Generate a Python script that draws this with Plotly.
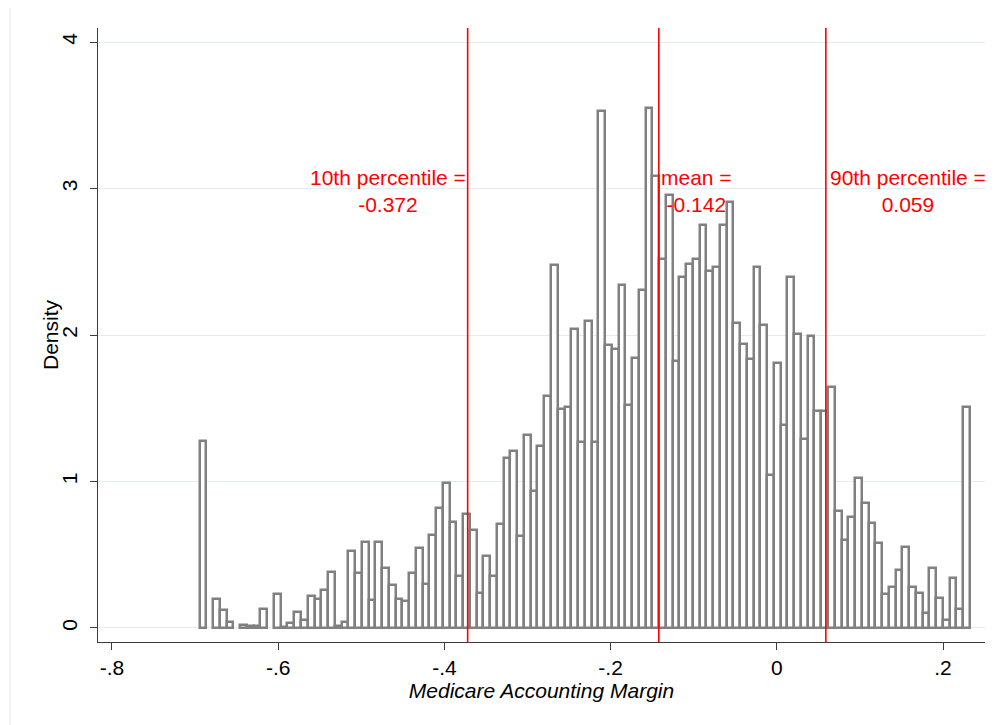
import plotly.graph_objects as go

# Histogram densities (one value per bin, left to right)
density = [
    1.276, 0.0, 0.198, 0.123, 0.041, 0.0, 0.021, 0.013, 0.015, 0.127,
    0.0, 0.233, 0.006, 0.034, 0.107, 0.055, 0.220, 0.199, 0.260, 0.385,
    0.015, 0.041, 0.523, 0.378, 0.584, 0.188, 0.584, 0.410, 0.293, 0.201,
    0.187, 0.378, 0.544, 0.298, 0.635, 0.821, 0.992, 0.726, 0.352, 0.778,
    0.669, 0.237, 0.490, 0.356, 0.708, 1.160, 1.206, 0.628, 1.317, 0.932,
    1.245, 1.583, 2.478, 1.496, 1.511, 2.040, 1.270, 2.094, 1.270, 3.526,
    1.935, 1.904, 2.339, 1.523, 1.845, 2.306, 3.550, 3.082, 2.522, 2.957,
    1.824, 2.398, 2.487, 2.518, 2.748, 2.440, 2.467, 2.748, 2.906, 2.082,
    1.939, 1.834, 2.467, 2.065, 1.045, 1.808, 1.389, 2.396, 2.010, 1.291,
    1.991, 1.484, 1.479, 1.647, 0.801, 0.601, 0.760, 1.022, 0.856, 0.714,
    0.578, 0.230, 0.278, 0.396, 0.555, 0.278, 0.241, 0.100, 0.407, 0.203,
    0.055, 0.339, 0.132, 1.511,
]
bin_start = -0.6945
bin_width = 0.00813

x_tickvals = [-0.8, -0.6, -0.4, -0.2, 0.0, 0.2]
x_ticktext = ["-.8", "-.6", "-.4", "-.2", "0", ".2"]
y_tickvals = [0, 1, 2, 3, 4]
y_ticktext = ["0", "1", "2", "3", "4"]

ref_values = [-0.372, -0.142, 0.059]
ref_names = ["10th percentile =", "mean =", "90th percentile ="]
ref_numbers = ["-0.372", "-0.142", "0.059"]

FONT = "Liberation Sans, Arial, sans-serif"
RED = "#ff0000"

centers = [bin_start + (i + 0.5) * bin_width for i in range(len(density))]
heights = [v if v > 0 else None for v in density]

fig = go.Figure()
fig.add_trace(go.Bar(
    x=centers, y=heights, width=bin_width,
    marker=dict(color="white", line=dict(color="#808080", width=2.5)),
    hoverinfo="x+y", showlegend=False,
))

for v in ref_values:
    fig.add_shape(type="line", xref="x", yref="paper", x0=v, x1=v, y0=0, y1=1,
                  line=dict(color=RED, width=1.6), layer="above")

shifts = [-80, 38, 82]
for v, name, num, s in zip(ref_values, ref_names, ref_numbers, shifts):
    fig.add_annotation(x=v, y=2.98, xref="x", yref="y", text=name + "<br>" + num,
                       showarrow=False, align="center",
                       xanchor="center", yanchor="middle", xshift=s,
                       font=dict(family=FONT, size=21, color=RED))

# y-axis title placed as rotated text
fig.add_annotation(x=0, y=0.5, xref="paper", yref="paper", text="Density",
                   textangle=-90, showarrow=False, xanchor="center", yanchor="middle",
                   xshift=-48, font=dict(family=FONT, size=21, color="black"))

# faint outer frame of the graph region
fig.add_shape(type="line", xref="paper", yref="paper", x0=-0.0992, x1=1.02, y0=1.0407, y1=1.0407,
              line=dict(color="#e6e6e6", width=1))
fig.add_shape(type="line", xref="paper", yref="paper", x0=-0.0992, x1=-0.0992, y0=-0.14, y1=1.0407,
              line=dict(color="#e6e6e6", width=1))

fig.update_layout(
    width=992, height=717,
    margin=dict(l=90, r=15, t=20, b=83),
    paper_bgcolor="white", plot_bgcolor="white",
    bargap=0,
    font=dict(family=FONT, size=21, color="black"),
    xaxis=dict(
        range=[-0.8168, 0.2505],
        tickvals=x_tickvals, ticktext=x_ticktext,
        showgrid=False, zeroline=False,
        showline=True, linecolor="#3c3c3c", linewidth=1.2,
        ticks="outside", ticklen=7, tickcolor="#3c3c3c", tickwidth=1.2,
        tickfont=dict(family=FONT, size=21, color="black"),
        title=dict(text="<i>Medicare Accounting Margin</i>", standoff=3,
                   font=dict(family=FONT, size=21, color="black")),
    ),
    yaxis=dict(
        range=[-0.0956, 4.0956],
        tickvals=y_tickvals, ticktext=y_ticktext, tickangle=-90,
        showgrid=True, gridcolor="#e4ecee", gridwidth=1,
        zeroline=False,
        showline=True, linecolor="#3c3c3c", linewidth=1.2,
        ticks="outside", ticklen=7, tickcolor="#3c3c3c", tickwidth=1.2,
        ticklabelstandoff=5,
        tickfont=dict(family=FONT, size=21, color="black"),
    ),
)

fig.write_html("out.html")
